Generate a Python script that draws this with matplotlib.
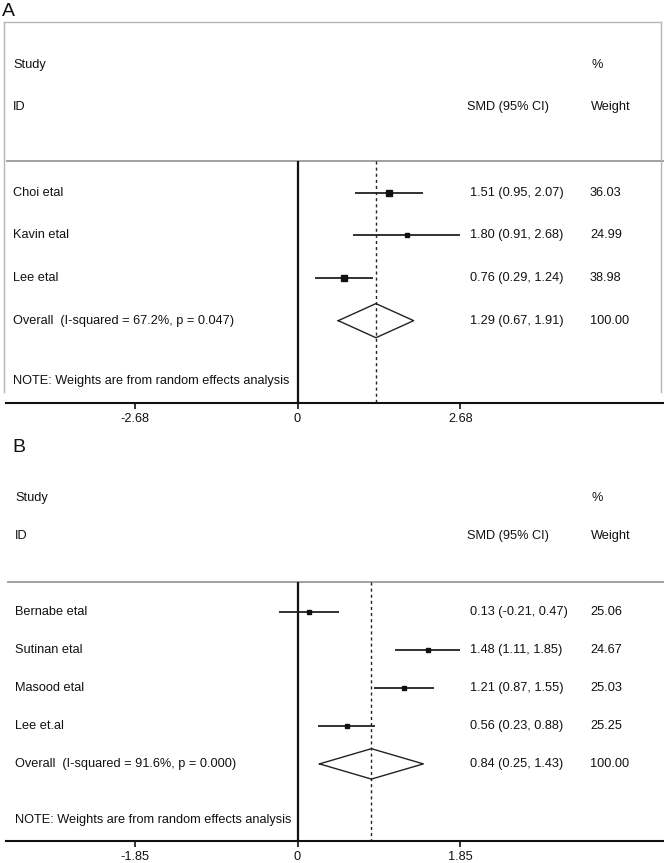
import numpy as np
import matplotlib
matplotlib.use("Agg")
import matplotlib.pyplot as plt
from matplotlib.lines import Line2D
from matplotlib.transforms import blended_transform_factory

plt.rcParams['font.family'] = ['Liberation Sans', 'DejaVu Sans']

# panel A
studies_a = ["Choi etal", "Kavin etal", "Lee etal"]
smd_a = [1.51, 1.80, 0.76]
lo_a = [0.95, 0.91, 0.29]
hi_a = [2.07, 2.68, 1.24]
weight_a = [36.03, 24.99, 38.98]
overall_a = [1.29, 0.67, 1.91]
het_a = "Overall  (I-squared = 67.2%, p = 0.047)"
ticks_a = [-2.68, 0, 2.68]

# panel B
studies_b = ["Bernabe etal", "Sutinan etal", "Masood etal", "Lee et.al"]
smd_b = [0.13, 1.48, 1.21, 0.56]
lo_b = [-0.21, 1.11, 0.87, 0.23]
hi_b = [0.47, 1.85, 1.55, 0.88]
weight_b = [25.06, 24.67, 25.03, 25.25]
overall_b = [0.84, 0.25, 1.43]
het_b = "Overall  (I-squared = 91.6%, p = 0.000)"
ticks_b = [-1.85, 0, 1.85]

note = "NOTE: Weights are from random effects analysis"

W, H = 664, 863
fig = plt.figure(figsize=(W / 100, H / 100), dpi=100)
txt = '#111111'
grey = '#9a9a9a'
fs = 9.2


def px(x, y):
    return x / W, 1 - y / H


def forest(top, bottom, xlim, ylim, names, est, lo, hi, wt, ov, het, ticks,
           note_y, sep_y, sep_x0, lab_x):
    x0, y0 = px(6, bottom)
    ax = fig.add_axes([x0, y0, 1 - x0, (bottom - top) / H])
    ax.set_xlim(*xlim)
    ax.set_ylim(*ylim)
    for s in ['top', 'left', 'right']:
        ax.spines[s].set_visible(False)
    ax.spines['bottom'].set_linewidth(1.5)
    ax.spines['bottom'].set_color('#111111')
    ax.set_yticks([])
    ax.set_xticks(ticks)
    ax.set_xticklabels(["%g" % t for t in ticks])
    ax.tick_params(axis='x', length=4, width=1.2, pad=3, labelsize=fs,
                   labelcolor=txt, color='#111111')

    tr = blended_transform_factory(fig.transFigure, ax.transData)
    rows = np.arange(len(names))
    ov_row = len(names)

    def put(x, y, s):
        ax.text(x / W, y, s, transform=tr, fontsize=fs, color=txt, va='center')

    # header
    put(lab_x, -3, "Study")
    put(lab_x, -2, "ID")
    put(467, -2, "SMD (95% CI)")
    put(591, -3, "%")
    put(591, -2, "Weight")

    # separator
    ax.add_line(Line2D([sep_x0 / W, 1], [sep_y, sep_y], transform=tr,
                       color=grey, lw=1.3))

    # null line and overall line
    ax.vlines(0, sep_y, ylim[0], color='#111111', lw=1.6)
    ax.vlines(ov[0], sep_y, ylim[0], color='#222222', lw=1.0,
              linestyles=(0, (2.2, 2.2)))

    # studies
    ax.hlines(rows, lo, hi, color='#222222', lw=1.3)
    for r, e, w in zip(rows, est, wt):
        ax.plot(e, r, marker='s', color='#111111', ms=3.6 * (w / 30) ** 0.25,
                ls='none')
    for r, n, e, l, h, w in zip(rows, names, est, lo, hi, wt):
        put(lab_x, r, n)
        put(470, r, "%.2f (%.2f, %.2f)" % (e, l, h))
        put(590, r, "%.2f" % w)

    # overall diamond
    dx = [ov[1], ov[0], ov[2], ov[0], ov[1]]
    dy = [ov_row, ov_row - 0.4, ov_row, ov_row + 0.4, ov_row]
    ax.plot(dx, dy, color='#222222', lw=1.0)
    put(lab_x, ov_row, het)
    put(470, ov_row, "%.2f (%.2f, %.2f)" % tuple(ov))
    put(590, ov_row, "100.00")
    put(lab_x, note_y, note)
    return ax


# zero sits at x = 297.5 px, axis runs 6..664 px
sc_a = 60.8
sc_b = 88.0
forest(22, 403, ((6 - 297.5) / sc_a, (664 - 297.5) / sc_a), (4.93, -4.0),
       studies_a, smd_a, lo_a, hi_a, weight_a, overall_a, het_a, ticks_a,
       4.41, -0.75, 4, 13)
forest(460, 841, ((6 - 297.5) / sc_b, (664 - 297.5) / sc_b), (6.03, -4.0),
       studies_b, smd_b, lo_b, hi_b, weight_b, overall_b, het_b, ticks_b,
       5.47, -0.79, 8, 15)

# frame around panel A
for xs, ys in [([4, 661], [22, 22]), ([4, 4], [22, 392]), ([661, 661], [22, 392])]:
    fig.add_artist(Line2D([x / W for x in xs], [1 - y / H for y in ys],
                          color='#b5b5b5', lw=1.0))

fig.text(2 / W, 1 - 11 / H, "A", fontsize=14, color=txt, va='center')
fig.text(12 / W, 1 - 448 / H, "B", fontsize=14, color=txt, va='center')

fig.savefig("out.png", dpi=100)
